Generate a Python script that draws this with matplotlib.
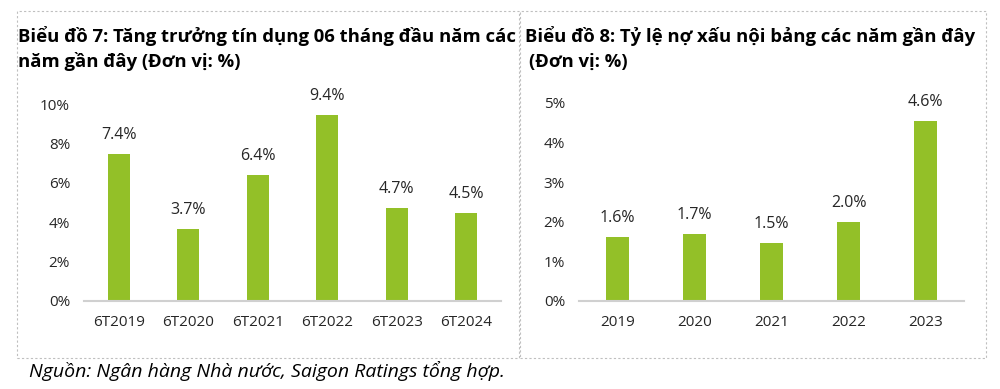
import matplotlib.pyplot as plt
from matplotlib.patches import Rectangle

plt.rcParams['font.family'] = ['Open Sans', 'Noto Sans', 'DejaVu Sans']

# Biểu đồ 7
cats1 = ["6T2019", "6T2020", "6T2021", "6T2022", "6T2023", "6T2024"]
vals1 = [7.46, 3.67, 6.41, 9.46, 4.74, 4.48]
labels1 = ["7.4%", "3.7%", "6.4%", "9.4%", "4.7%", "4.5%"]
yticks1 = [0, 2, 4, 6, 8, 10]

# Biểu đồ 8
cats2 = ["2019", "2020", "2021", "2022", "2023"]
vals2 = [1.61, 1.69, 1.46, 1.99, 4.55]
labels2 = ["1.6%", "1.7%", "1.5%", "2.0%", "4.6%"]
yticks2 = [0, 1, 2, 3, 4, 5]

green = "#93c028"
txt = "#262626"

fig = plt.figure(figsize=(10, 3.89), dpi=100)

# dashed panel borders
for x0, x1 in [(17, 519), (520, 986)]:
    fig.patches.append(Rectangle((x0 / 1000, 1 - 358 / 389), (x1 - x0) / 1000, (358 - 11) / 389,
                                 transform=fig.transFigure, fill=False,
                                 edgecolor="#bfbfbf", linestyle=(0, (2, 2)), linewidth=0.8))


def bar_panel(rect, cats, vals, labels, yticks, top):
    ax = fig.add_axes(rect)
    ax.bar(range(len(cats)), vals, width=0.31, color=green)
    ax.set_xlim(-0.5, len(cats) - 0.5)
    ax.set_ylim(0, top)
    ax.set_yticks(yticks)
    ax.set_yticklabels([f"{t}%" for t in yticks])
    ax.set_xticks(range(len(cats)))
    ax.set_xticklabels(cats)
    for s in ["top", "right", "left"]:
        ax.spines[s].set_visible(False)
    ax.spines["bottom"].set_color("#d0d0d0")
    ax.spines["bottom"].set_linewidth(1.5)
    ax.tick_params(axis="both", length=0, labelsize=11, colors=txt)
    ax.tick_params(axis="y", pad=10)
    ax.tick_params(axis="x", pad=10)
    for i, (v, l) in enumerate(zip(vals, labels)):
        ax.annotate(l, (i, v), xytext=(0, 8), textcoords="offset points",
                    ha="center", va="bottom", fontsize=11.5, color=txt)
    return ax


bar_panel([0.084, 1 - 301 / 389, 0.417, (301 - 104) / 389], cats1, vals1, labels1, yticks1, 10)
bar_panel([0.579, 1 - 301 / 389, 0.385, (301 - 103) / 389], cats2, vals2, labels2, yticks2, 5)

tkw = dict(fontsize=13.3, fontweight="bold", color="black", va="baseline")
fig.text(0.018, 1 - 42 / 389, "Biểu đồ 7: Tăng trưởng tín dụng 06 tháng đầu năm các", **tkw)
fig.text(0.018, 1 - 67 / 389, "năm gần đây (Đơn vị: %)", **tkw)
fig.text(0.525, 1 - 42 / 389, "Biểu đồ 8: Tỷ lệ nợ xấu nội bảng các năm gần đây", **tkw)
fig.text(0.529, 1 - 67 / 389, "(Đơn vị: %)", **tkw)

fig.text(0.029, 1 - 371 / 389, "Nguồn: Ngân hàng Nhà nước, Saigon Ratings tổng hợp.",
         fontsize=14, style="italic", color="black", va="center")

fig.savefig("out.png", dpi=100)
